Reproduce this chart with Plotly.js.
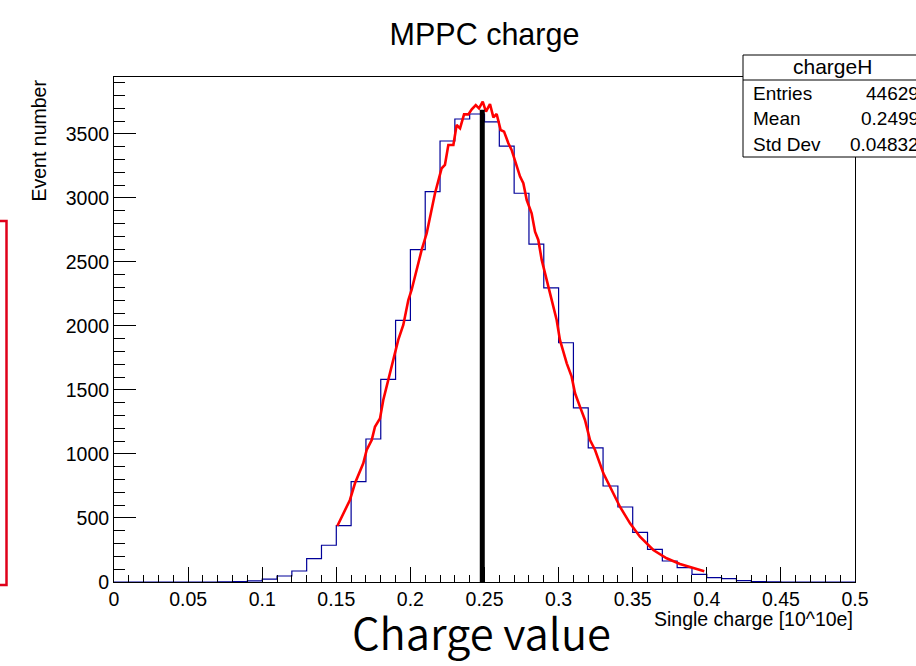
<!DOCTYPE html>
<html>
<head>
<meta charset="utf-8">
<script src="https://cdn.plot.ly/plotly-3.0.1.min.js"></script>
<style>html,body{margin:0;padding:0;background:#fff;}#chart{width:916px;height:666px;}</style>
</head>
<body>
<div id="chart"></div>
<script>
// Histogram bins (lower edges, width 0.01) and counts
const binLow = [0.00,0.01,0.02,0.03,0.04,0.05,0.06,0.07,0.08,0.09,
                0.10,0.11,0.12,0.13,0.14,0.15,0.16,0.17,0.18,0.19,
                0.20,0.21,0.22,0.23,0.24,0.25,0.26,0.27,0.28,0.29,
                0.30,0.31,0.32,0.33,0.34,0.35,0.36,0.37,0.38,0.39,
                0.40,0.41,0.42,0.43,0.44,0.45,0.46,0.47,0.48,0.49];
const counts = [0,0,0,0,0,0,0,1,4,9,
                23,47,86,182,287,440,784,1117,1583,2044,
                2596,3050,3445,3617,3656,3595,3405,3037,2639,2297,
                1869,1361,1048,750,586,388,255,164,112,60,
                34,26,10,3,1,0,0,0,0,0];
const binWidth = 0.01;

// Fit curve (red)
const fitX = [0.1507,0.1547,0.1592,0.1626,0.1660,0.1682,0.1705,0.1739,0.1761,0.1795,
              0.1817,0.1851,0.1885,0.1918,0.1952,0.1986,0.2008,0.2042,0.2076,0.2110,
              0.2166,0.2211,0.2233,0.2256,0.2290,0.2312,0.2335,0.2362,0.2391,0.2414,
              0.2441,0.2463,0.2488,0.2510,0.2537,0.2560,0.2582,0.2609,0.2632,0.2661,
              0.2683,0.2740,0.2762,0.2785,0.2818,0.2841,0.2863,0.2886,0.2920,0.2953,
              0.2987,0.3009,0.3055,0.3088,0.3111,0.3144,0.3178,0.3212,0.3246,0.3302,
              0.3358,0.3414,0.3482,0.3549,0.3639,0.3729,0.3819,0.3909,0.3983];
const fitY = [437,537,641,771,862,927,1031,1109,1213,1278,
              1422,1578,1734,1891,2008,2203,2281,2450,2594,2724,
              3037,3232,3258,3414,3414,3570,3544,3653,3653,3692,
              3726,3700,3752,3674,3734,3630,3656,3531,3518,3427,
              3375,3167,3115,2984,2880,2737,2672,2516,2359,2203,
              2047,1891,1708,1604,1474,1370,1266,1109,1031,849,
              719,588,458,354,250,185,141,107,84];

// Black marker line
const markX = [0.2485];
const markTop = [3690];

// Stats box
const statsTitle = "chargeH";
const statsLabels = ["Entries","Mean","Std Dev"];
const statsValues = ["44629","0.2499","0.04832"];

const xTicks = [0,0.05,0.1,0.15,0.2,0.25,0.3,0.35,0.4,0.45,0.5];
const xTickText = ["0","0.05","0.1","0.15","0.2","0.25","0.3","0.35","0.4","0.45","0.5"];
const yTicks = [0,500,1000,1500,2000,2500,3000,3500];
const yTickText = ["0","500","1000","1500","2000","2500","3000","3500"];

// Build step outline
const hx = binLow.concat([binLow[binLow.length-1] + binWidth]);
const hy = counts.concat([counts[counts.length-1]]);

const F = "Liberation Sans, Arial, sans-serif";

const traces = [
  {x: hx, y: hy, type: 'scatter', mode: 'lines', line: {shape: 'hv', color: '#000099', width: 1.2}, hoverinfo: 'skip'},
  {x: fitX, y: fitY, type: 'scatter', mode: 'lines', line: {color: '#ff0000', width: 2.6}, hoverinfo: 'skip'},
  {x: [markX[0], markX[0]], y: [0, markTop[0]], type: 'scatter', mode: 'lines', line: {color: '#000000', width: 5}, hoverinfo: 'skip'}
];

// Pixel helpers for annotations/shapes (plot area 114..855 x 77..582)
const L = 114, R = 855, T = 77, B = 582;
const px = p => (p - L) / (R - L);
const py = p => (B - p) / (B - T);

const shapes = [
  {type: 'rect', xref: 'paper', yref: 'paper', x0: px(743), x1: px(930), y0: py(157), y1: py(55),
   line: {color: '#000', width: 1}, fillcolor: '#fff', layer: 'above'},
  {type: 'line', xref: 'paper', yref: 'paper', x0: px(743), x1: px(930), y0: py(80), y1: py(80),
   line: {color: '#000', width: 1}, layer: 'above'},
  {type: 'rect', xref: 'paper', yref: 'paper', x0: px(-10), x1: px(6.5), y0: py(585), y1: py(221),
   line: {color: '#e0001a', width: 2.5}, fillcolor: 'rgba(0,0,0,0)'}
];

const annotations = [
  {xref: 'paper', yref: 'paper', x: px(832), y: py(67), text: statsTitle, showarrow: false,
   xanchor: 'center', yanchor: 'middle', font: {family: F, size: 21, color: '#000'}},
  {xref: 'paper', yref: 'paper', x: (38.5 - L) / (R - L), y: py(78), text: 'Event number', textangle: -90,
   showarrow: false, xanchor: 'center', yanchor: 'top', font: {family: F, size: 19.5, color: '#000'}},
  {xref: 'paper', yref: 'paper', x: px(855), y: py(619), text: 'Single charge [10^10e]', showarrow: false,
   xanchor: 'right', yanchor: 'middle', font: {family: F, size: 19.5, color: '#000'}},
  {xref: 'paper', yref: 'paper', x: px(481), y: py(631), text: 'Charge value', showarrow: false,
   xanchor: 'center', yanchor: 'middle', font: {family: 'Noto Sans CJK JP, Noto Sans, sans-serif', size: 43.5, weight: 350, color: '#000'}}
];
const rowsY = [93, 119, 144];
for (let i = 0; i < statsLabels.length; i++) {
  annotations.push({xref: 'paper', yref: 'paper', x: px(751), y: py(rowsY[i]), text: statsLabels[i], showarrow: false,
    xanchor: 'left', yanchor: 'middle', font: {family: F, size: 19, color: '#000'}});
  annotations.push({xref: 'paper', yref: 'paper', x: px(921), y: py(rowsY[i]), text: statsValues[i], showarrow: false,
    xanchor: 'right', yanchor: 'middle', font: {family: F, size: 19, color: '#000'}});
}

const layout = {
  width: 916, height: 666,
  margin: {l: L, r: 916 - R, t: T, b: 666 - B, pad: 0},
  paper_bgcolor: '#fff', plot_bgcolor: '#fff',
  showlegend: false,
  title: {text: 'MPPC charge', font: {family: F, size: 30.5, color: '#000'},
          xref: 'paper', x: 0.5, xanchor: 'center', yref: 'container', y: 1 - 34 / 666, yanchor: 'middle'},
  xaxis: {range: [0, 0.5], tickvals: xTicks, ticktext: xTickText, ticks: 'inside', ticklen: 15, tickwidth: 1,
          tickcolor: '#000', showgrid: false, zeroline: false, showline: true, linecolor: '#000', linewidth: 1,
          mirror: true, tickfont: {family: F, size: 19.5, color: '#000'},
          minor: {dtick: 0.01, tick0: 0, ticks: 'inside', ticklen: 7, tickcolor: '#000', tickwidth: 1, showgrid: false}},
  yaxis: {range: [0, 3945], tickvals: yTicks, ticktext: yTickText, ticks: 'inside', ticklen: 22, tickwidth: 1,
          tickcolor: '#000', showgrid: false, zeroline: false, showline: true, linecolor: '#000', linewidth: 1,
          mirror: true, tickfont: {family: F, size: 19.5, color: '#000'},
          minor: {dtick: 100, tick0: 0, ticks: 'inside', ticklen: 11, tickcolor: '#000', tickwidth: 1, showgrid: false}},
  shapes: shapes,
  annotations: annotations
};

Plotly.newPlot('chart', traces, layout, {displayModeBar: false, staticPlot: true});
</script>
</body>
</html>
